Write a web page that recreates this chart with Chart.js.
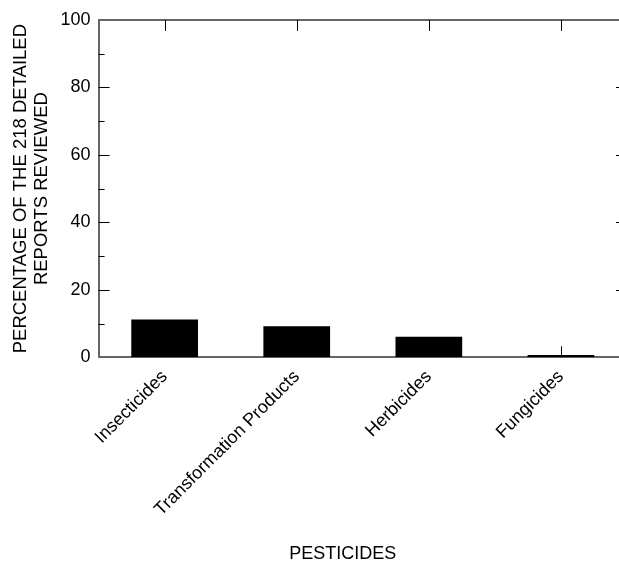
<!DOCTYPE html>
<html>
<head>
<meta charset="utf-8">
<script src="https://cdn.jsdelivr.net/npm/chart.js@4"></script>
<style>
  html, body { margin: 0; padding: 0; background: #fff; overflow: hidden; }
  #wrap { position: absolute; left: 0; top: 0; width: 640px; height: 565px; }
</style>
</head>
<body>
<div id="wrap"><canvas id="pestChart"></canvas></div>
<script>
// data
const categories = ['Insecticides', 'Transformation Products', 'Herbicides', 'Fungicides'];
const percentages = [11.2, 9.2, 6.1, 0.7];
const yTicks = [0, 20, 40, 60, 80, 100];
const yMinorTicks = [10, 30, 50, 70, 90];

const FONT = '"Liberation Sans", Arial, Helvetica, sans-serif';
const AXIS_GREY = '#666666';

// inward tick marks on all four sides + top frame line
const frameTicks = {
  id: 'frameTicks',
  afterDatasetsDraw(chart) {
    const { ctx, chartArea: a, scales: { x, y } } = chart;
    ctx.save();
    // top frame
    ctx.strokeStyle = AXIS_GREY;
    ctx.lineWidth = 2;
    ctx.beginPath();
    ctx.moveTo(a.left, a.top);
    ctx.lineTo(a.right, a.top);
    ctx.moveTo(a.right, a.top);
    ctx.lineTo(a.right, a.bottom);
    ctx.stroke();

    ctx.strokeStyle = '#000';
    ctx.lineWidth = 1;
    ctx.beginPath();
    const yMark = (v, len) => {
      const py = Math.round(y.getPixelForValue(v)) + 0.5;
      ctx.moveTo(a.left, py); ctx.lineTo(a.left + len, py);
      ctx.moveTo(a.right, py); ctx.lineTo(a.right - len, py);
    };
    yTicks.forEach(v => { if (v > 0 && v < 100) yMark(v, 11); });
    yMinorTicks.forEach(v => yMark(v, 6));
    categories.forEach((c, i) => {
      const px = Math.round(x.getPixelForValue(i)) + 0.5;
      ctx.moveTo(px, a.top); ctx.lineTo(px, a.top + 11);
      ctx.moveTo(px, a.bottom); ctx.lineTo(px, a.bottom - 11);
    });
    ctx.stroke();
    ctx.restore();
  }
};

new Chart(document.getElementById('pestChart'), {
  type: 'bar',
  data: {
    labels: categories,
    datasets: [{
      data: percentages,
      backgroundColor: '#000',
      borderWidth: 0,
      categoryPercentage: 1,
      barPercentage: 0.505
    }]
  },
  options: {
    responsive: true,
    maintainAspectRatio: false,
    animation: false,
    layout: { padding: { left: 10, top: 20, right: 13, bottom: 0 } },
    plugins: { legend: { display: false }, tooltip: { enabled: false } },
    scales: {
      x: {
        grid: { display: false },
        border: { display: true, color: AXIS_GREY, width: 2 },
        ticks: {
          color: '#000',
          font: { family: FONT, size: 18 },
          minRotation: 45,
          maxRotation: 45,
          padding: 1
        },
        title: {
          display: true,
          // trailing spaces pull the centred title left, as in the original
          text: 'PESTICIDES' + '\u00A0'.repeat(8),
          color: '#000',
          font: { family: FONT, size: 18 },
          padding: { top: 22, bottom: 0 }
        }
      },
      y: {
        min: 0,
        max: 100,
        grid: { display: false },
        border: { display: true, color: AXIS_GREY, width: 2 },
        afterBuildTicks(scale) {
          scale.ticks = yTicks.map(v => ({ value: v }));
        },
        ticks: {
          color: '#000',
          font: { family: FONT, size: 18 },
          padding: 0
        },
        title: {
          display: true,
          text: ['PERCENTAGE OF THE 218 DETAILED', 'REPORTS REVIEWED'],
          color: '#000',
          font: { family: FONT, size: 18.5, lineHeight: 1.15 },
          padding: { top: 0, bottom: 8 }
        }
      }
    }
  },
  plugins: [frameTicks]
});
</script>
</body>
</html>
